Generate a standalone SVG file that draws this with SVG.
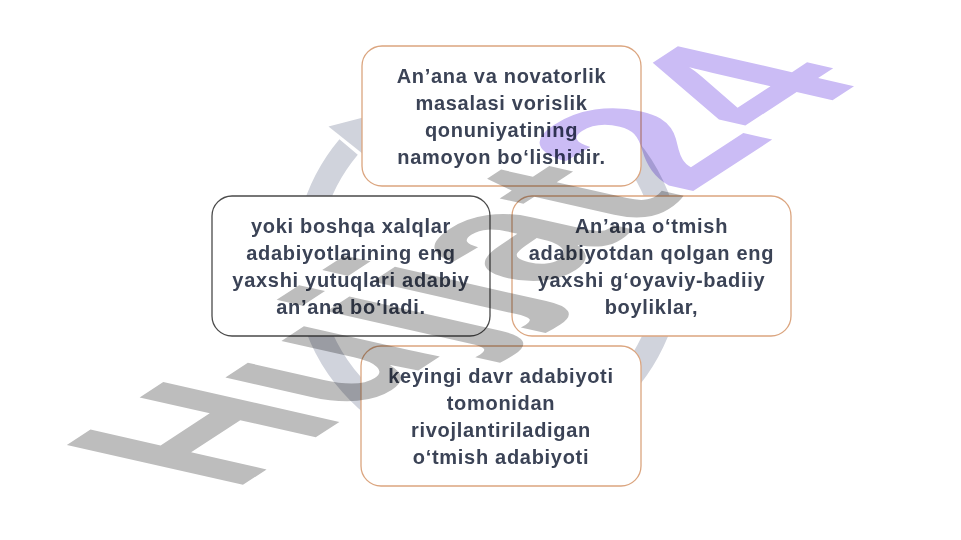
<svg xmlns="http://www.w3.org/2000/svg" width="961" height="540" viewBox="0 0 961 540">
<style>
.bg{fill:#ffffff}
.ring{fill:none;stroke:#d0d3dc;stroke-width:24}
.head{fill:#d0d3dc}
.box{fill:#ffffff;stroke-width:1.3}
.bo{stroke:#dba57f}
.bd{stroke:#4a4a4a}
.lbl{font-family:"Liberation Sans",Arial,sans-serif;font-weight:bold;font-size:20px;letter-spacing:0.7px;fill:#3b4356;text-anchor:middle}
.wm{font-family:"Liberation Sans",Arial,sans-serif;font-weight:bold;font-size:100px;mix-blend-mode:multiply}
</style>
<rect class="bg" x="0" y="0" width="961" height="540"/>
<g id="connectors">
  <path class="ring" d="M 456.4 84.8 A 182 182 0 1 1 348.6 147.0"/>
  <polygon class="head" points="328.5,126.6 371.5,160.8 387.2,111.3"/>
</g>
<g id="node-top">
  <rect class="box bo" x="362" y="46" width="279" height="140" rx="20"/>
  <text class="lbl" x="501.5" y="83">An’ana va novatorlik</text>
  <text class="lbl" x="501.5" y="110">masalasi vorislik</text>
  <text class="lbl" x="501.5" y="137">qonuniyatining</text>
  <text class="lbl" x="501.5" y="164">namoyon bo‘lishidir.</text>
</g>
<g id="node-right">
  <rect class="box bo" x="512" y="196" width="279" height="140" rx="20"/>
  <text class="lbl" x="651.5" y="233">An’ana o‘tmish</text>
  <text class="lbl" x="651.5" y="260">adabiyotdan qolgan eng</text>
  <text class="lbl" x="651.5" y="287">yaxshi g‘oyaviy-badiiy</text>
  <text class="lbl" x="651.5" y="314">boyliklar,</text>
</g>
<g id="node-bottom">
  <rect class="box bo" x="361" y="346" width="280" height="140" rx="20"/>
  <text class="lbl" x="501" y="383">keyingi davr adabiyoti</text>
  <text class="lbl" x="501" y="410">tomonidan</text>
  <text class="lbl" x="501" y="437">rivojlantiriladigan</text>
  <text class="lbl" x="501" y="464">o‘tmish adabiyoti</text>
</g>
<g id="node-left">
  <rect class="box bd" x="212" y="196" width="278" height="140" rx="20"/>
  <text class="lbl" x="351" y="233">yoki boshqa xalqlar</text>
  <text class="lbl" x="351" y="260">adabiyotlarining eng</text>
  <text class="lbl" x="351" y="287">yaxshi yutuqlari adabiy</text>
  <text class="lbl" x="351" y="314">an’ana bo‘ladi.</text>
</g>
<g id="watermark">
  <text class="wm" transform="matrix(1.64 -1.07 2.56 0.58 232 492)" x="0" y="0"><tspan fill="#bdbdbd">Hujjat</tspan><tspan fill="#cbbcf5">24</tspan></text>
</g>
</svg>
